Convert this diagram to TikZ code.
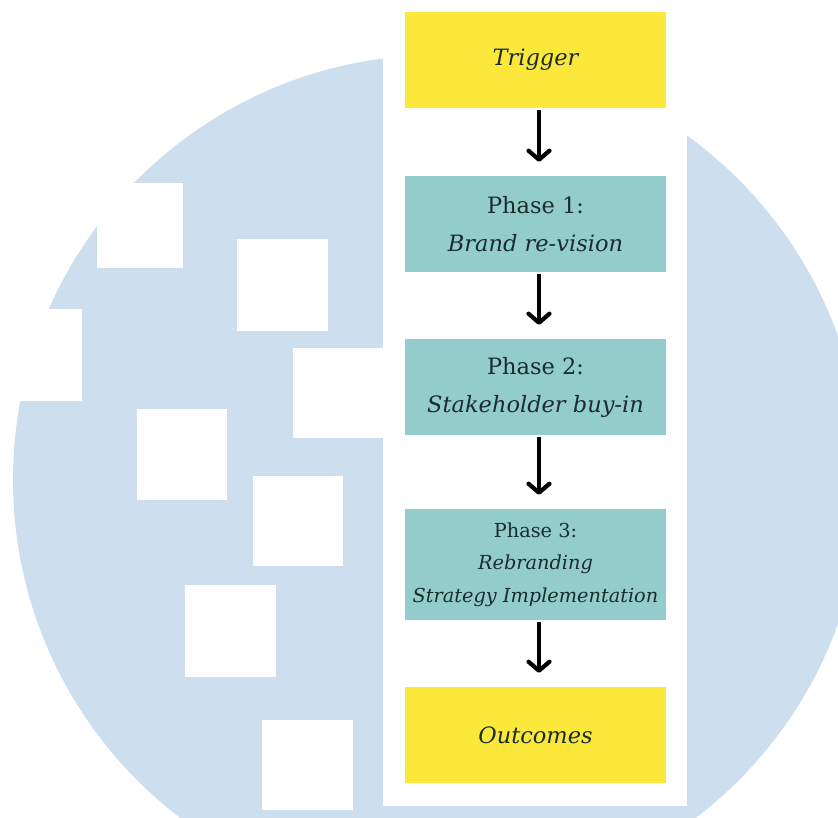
\documentclass[tikz,border=0pt]{standalone}
\usepackage{fontspec}
\setmainfont{DejaVu Serif}
\usetikzlibrary{arrows.meta}
\definecolor{bgblue}{RGB}{205,223,239}
\definecolor{boxyellow}{RGB}{252,232,58}
\definecolor{boxteal}{RGB}{146,205,203}
\definecolor{txtdark}{RGB}{26,44,46}
\tikzset{
  stagebox/.style={rectangle, minimum width=261pt, inner sep=0pt, align=center,
    text=txtdark, font=\fontsize{22.5}{38}\selectfont},
  yellowbox/.style={stagebox, fill=boxyellow, minimum height=96pt},
  tealbox/.style={stagebox, fill=boxteal, minimum height=96pt},
  flowarrow/.style={line width=4.2pt, black, shorten <=2pt, shorten >=14pt,
    -{Straight Barb[length=9pt,width=21pt,line cap=round,line join=round]}},
  patch/.style={fill=white, draw=none}
}
\begin{document}
\begin{tikzpicture}[x=1pt,y=-1pt]
\useasboundingbox (0,0) rectangle (838,817);
% background circle, clipped to the page
\begin{scope}
\clip (0,0) rectangle (838,817);
\fill[bgblue] (438,480) circle (425);
\end{scope}
% white squares
\fill[patch] (97,183) rectangle (183,268);
\fill[patch] (237,239) rectangle (328,331);
\fill[patch] (0,309) rectangle (82,401);
\fill[patch] (293,348) rectangle (384,438);
\fill[patch] (137,409) rectangle (227,500);
\fill[patch] (253,476) rectangle (343,566);
\fill[patch] (185,585) rectangle (276,677);
\fill[patch] (262,720) rectangle (353,810);
% white strip
\fill[patch] (383,0) rectangle (687,806);
% boxes
\node[yellowbox] (trig) at (535.5,60) {\itshape Trigger};
\node[tealbox] (p1) at (535.5,224) {Phase 1:\\\itshape Brand re-vision};
\node[tealbox] (p2) at (535.5,387) {Phase 2:\\\itshape Stakeholder buy-in};
\node[tealbox, minimum height=111pt, font=\fontsize{19.3}{32.5}\selectfont] (p3) at (535.5,564.5)
  {Phase 3:\\\itshape Rebranding\\\itshape Strategy Implementation};
\node[yellowbox] (out) at (535.5,735) {\itshape Outcomes};
% arrows
\draw[flowarrow] ([xshift=3.5pt]trig.south) -- ([xshift=3.5pt]p1.north);
\draw[flowarrow] ([xshift=3.5pt]p1.south) -- ([xshift=3.5pt]p2.north);
\draw[flowarrow] ([xshift=3.5pt]p2.south) -- ([xshift=3.5pt]p3.north);
\draw[flowarrow] ([xshift=3.5pt]p3.south) -- ([xshift=3.5pt]out.north);
\end{tikzpicture}
\end{document}
